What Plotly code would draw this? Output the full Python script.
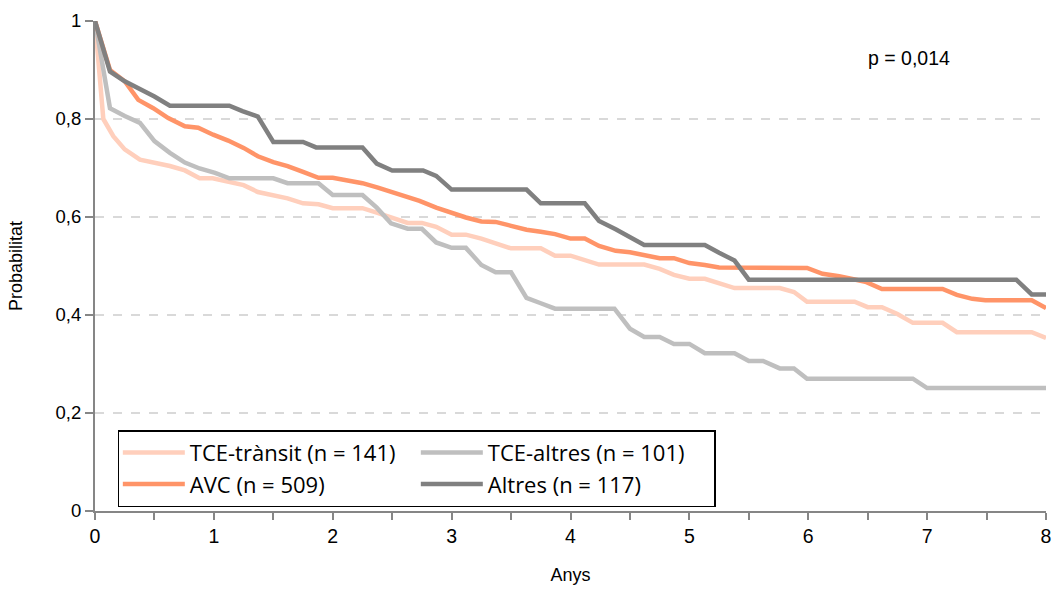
import plotly.graph_objects as go

# Survival curves (probability vs. years) for four patient groups
t_tce_transit = [0, 0.07, 0.154, 0.25, 0.378, 0.50, 0.63, 0.756, 0.88, 0.99, 1.12, 1.25, 1.37, 1.50,
                 1.62, 1.75, 1.88, 2.0, 2.25, 2.37, 2.49, 2.63, 2.75, 2.87, 3.0, 3.12, 3.25, 3.37,
                 3.50, 3.75, 3.87, 4.0, 4.12, 4.24, 4.62, 4.75, 4.87, 5.0, 5.13, 5.25, 5.38, 5.76,
                 5.88, 5.99, 6.39, 6.5, 6.62, 6.75, 6.88, 7.13, 7.25, 7.88, 8.0]
p_tce_transit = [1.0, 0.80, 0.765, 0.738, 0.717, 0.711, 0.704, 0.695, 0.679, 0.679, 0.671, 0.665,
                 0.651, 0.645, 0.638, 0.628, 0.626, 0.618, 0.618, 0.609, 0.599, 0.588, 0.588, 0.580,
                 0.564, 0.564, 0.556, 0.547, 0.536, 0.536, 0.521, 0.521, 0.513, 0.503, 0.503, 0.494,
                 0.482, 0.474, 0.474, 0.466, 0.455, 0.455, 0.447, 0.427, 0.427, 0.416, 0.416, 0.402,
                 0.384, 0.384, 0.365, 0.365, 0.353]

t_tce_altres = [0, 0.126, 0.25, 0.378, 0.50, 0.63, 0.756, 0.88, 1.01, 1.13, 1.50, 1.62, 1.88, 2.0,
                2.25, 2.37, 2.49, 2.63, 2.75, 2.87, 3.0, 3.12, 3.25, 3.37, 3.50, 3.63, 3.75, 3.87,
                4.37, 4.50, 4.62, 4.75, 4.87, 5.0, 5.13, 5.38, 5.50, 5.62, 5.76, 5.88, 5.99, 6.88,
                7.0, 8.0]
p_tce_altres = [1.0, 0.822, 0.806, 0.792, 0.755, 0.731, 0.711, 0.699, 0.690, 0.679, 0.679, 0.669,
                0.669, 0.645, 0.645, 0.619, 0.587, 0.576, 0.576, 0.548, 0.537, 0.537, 0.502, 0.487,
                0.487, 0.435, 0.424, 0.413, 0.413, 0.372, 0.355, 0.355, 0.341, 0.341, 0.322, 0.322,
                0.306, 0.306, 0.291, 0.291, 0.270, 0.270, 0.251, 0.251]

t_avc = [0, 0.126, 0.25, 0.364, 0.49, 0.616, 0.756, 0.868, 0.994, 1.12, 1.25, 1.37, 1.50, 1.62,
         1.75, 1.88, 2.0, 2.13, 2.25, 2.38, 2.51, 2.65, 2.73, 2.87, 3.0, 3.12, 3.25, 3.37, 3.50,
         3.63, 3.75, 3.87, 4.0, 4.12, 4.24, 4.38, 4.50, 4.62, 4.75, 4.87, 5.0, 5.13, 5.25, 5.99,
         6.12, 6.26, 6.48, 6.62, 7.13, 7.25, 7.38, 7.49, 7.88, 8.0]
p_avc = [1.0, 0.90, 0.877, 0.839, 0.822, 0.802, 0.785, 0.782, 0.768, 0.756, 0.741, 0.724, 0.712,
         0.704, 0.692, 0.680, 0.680, 0.675, 0.669, 0.660, 0.650, 0.640, 0.633, 0.619, 0.608, 0.599,
         0.591, 0.590, 0.582, 0.574, 0.570, 0.565, 0.556, 0.556, 0.541, 0.531, 0.528, 0.523, 0.516,
         0.516, 0.506, 0.502, 0.497, 0.496, 0.484, 0.479, 0.468, 0.453, 0.453, 0.441, 0.433, 0.430,
         0.430, 0.414]

t_altres = [0, 0.126, 0.25, 0.364, 0.5, 0.63, 1.13, 1.24, 1.37, 1.50, 1.75, 1.86, 2.25, 2.37, 2.5,
            2.76, 2.87, 3.0, 3.63, 3.75, 4.12, 4.24, 4.38, 4.62, 5.13, 5.25, 5.38, 5.50, 7.75, 7.88,
            8.0]
p_altres = [1.0, 0.897, 0.877, 0.863, 0.846, 0.827, 0.827, 0.816, 0.805, 0.753, 0.753, 0.742, 0.742,
            0.709, 0.695, 0.695, 0.684, 0.656, 0.656, 0.628, 0.628, 0.592, 0.575, 0.543, 0.543,
            0.527, 0.511, 0.472, 0.472, 0.442, 0.442]

series = [
    ("TCE-trànsit (n = 141)", t_tce_transit, p_tce_transit, "#FFCFBC", "a"),
    ("TCE-altres (n = 101)", t_tce_altres, p_tce_altres, "#BFBFBF", "b"),
    ("AVC (n = 509)", t_avc, p_avc, "#FF9468", "a"),
    ("Altres (n = 117)", t_altres, p_altres, "#808080", "b"),
]

x_ticks = list(range(0, 9))
y_ticks = [0, 0.2, 0.4, 0.6, 0.8, 1.0]
p_value_text = "p = 0,014"

AXIS = "#868686"
GRID = "#D9D9D9"
TEXT_FONT = "Arial, Liberation Sans, sans-serif"

fig = go.Figure()
for name, t, p, color, group in series:
    fig.add_trace(go.Scatter(
        x=t, y=p, mode="lines", name=name, legendgroup=group,
        line=dict(color=color, width=4.5),
    ))

fig.update_layout(
    width=1059, height=590,
    margin=dict(l=95, r=8, t=21, b=77),
    plot_bgcolor="white", paper_bgcolor="white",
    separators=",.",
    font=dict(family=TEXT_FONT, size=18, color="#000000"),
    showlegend=True,
    legend=dict(
        orientation="h", traceorder="grouped",
        x=0.024, y=0.165, xanchor="left", yanchor="top",
        bordercolor="#000000", borderwidth=1.5, bgcolor="white",
        font=dict(family="Open Sans, sans-serif", size=22),
        itemwidth=62, tracegroupgap=0,
        entrywidth=221, entrywidthmode="pixels",
    ),
)

fig.update_xaxes(
    range=[0, 8], tickvals=x_ticks, ticks="outside", ticklen=7, tickwidth=1.5,
    tickcolor=AXIS, showline=True, linecolor=AXIS, linewidth=2,
    showgrid=False, zeroline=False,
    minor=dict(dtick=0.5, ticks="outside", ticklen=7, tickwidth=1.5, tickcolor=AXIS, showgrid=False),
    title=dict(text="Anys", font=dict(size=18), standoff=22),
    tickfont=dict(size=19.5),
)
fig.update_yaxes(
    range=[0, 1], tickvals=y_ticks, ticks="outside", ticklen=8, tickwidth=1.5,
    tickcolor=AXIS, showline=True, linecolor=AXIS, linewidth=2,
    showgrid=True, gridcolor=GRID, gridwidth=1.5, griddash="dash",
    zeroline=False,
    title=dict(text="Probabilitat", font=dict(size=18), standoff=28),
    tickfont=dict(size=18.5),
)

fig.add_annotation(
    x=6.85, y=0.925, xref="x", yref="y", text=p_value_text, showarrow=False,
    font=dict(size=19.5, family=TEXT_FONT),
)

fig.write_html("out.html")
